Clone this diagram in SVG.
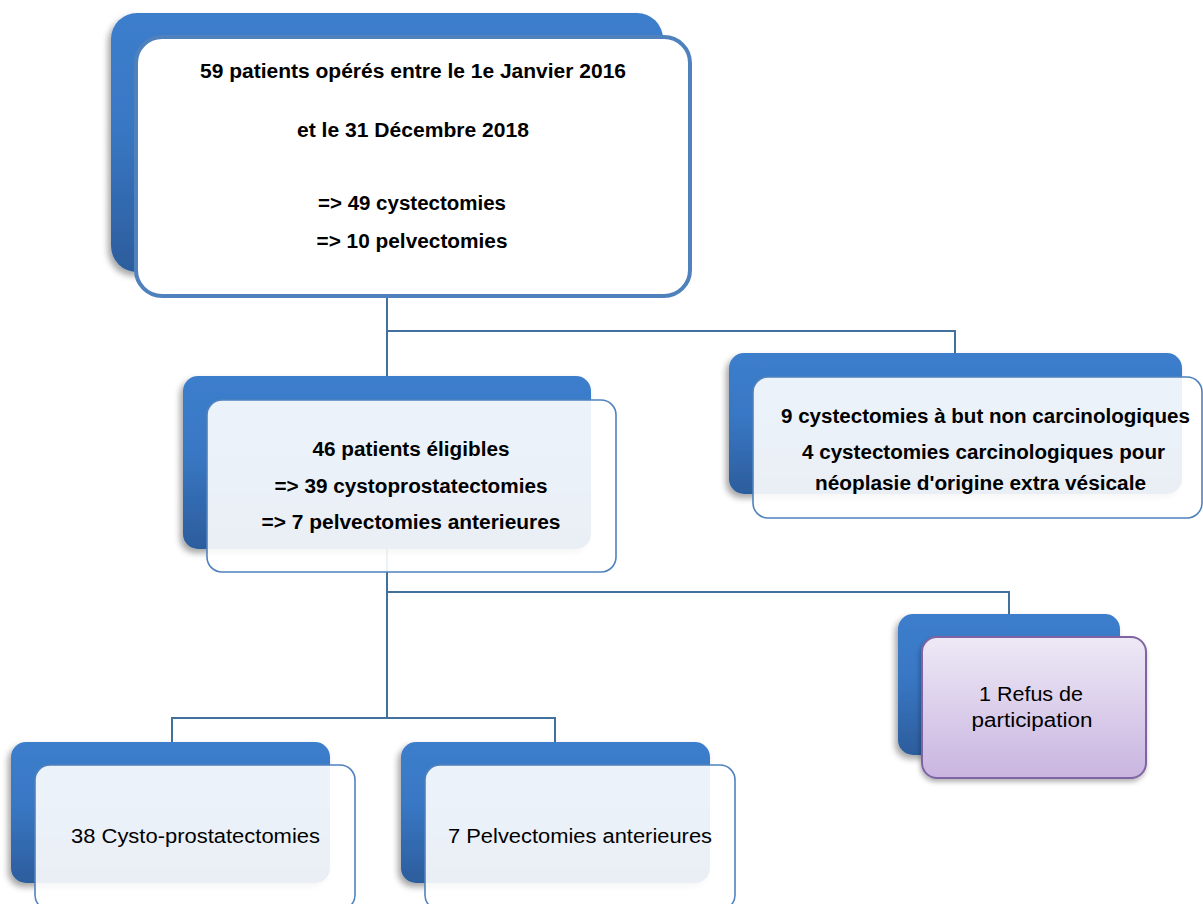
<svg xmlns="http://www.w3.org/2000/svg" width="1203" height="904" viewBox="0 0 1203 904">
<defs>
<linearGradient id="gBack" x1="0" y1="0" x2="0" y2="1">
<stop offset="0" stop-color="#3C7ECC"/>
<stop offset="0.45" stop-color="#3977C4"/>
<stop offset="1" stop-color="#2C5D9C"/>
</linearGradient>
<linearGradient id="gPurple" x1="0" y1="0" x2="0" y2="1">
<stop offset="0" stop-color="#EEE9F6"/>
<stop offset="1" stop-color="#C9B5E0"/>
</linearGradient>
<filter id="shadow" x="-10%" y="-10%" width="120%" height="130%">
<feDropShadow dx="-3" dy="4" stdDeviation="3" flood-color="#000" flood-opacity="0.35"/>
</filter>
<filter id="shadow2" x="-10%" y="-10%" width="120%" height="130%">
<feDropShadow dx="-1" dy="3" stdDeviation="2.5" flood-color="#000" flood-opacity="0.3"/>
</filter>
</defs>
<style>
.back{fill:url(#gBack);filter:url(#shadow)}
.front{fill:#FFFFFF;fill-opacity:0.9;stroke:#4F81BD;stroke-width:1.6}
.frontTop{fill:#FFFFFF;stroke:#4F81BD;stroke-width:4}
.frontPurple{fill:url(#gPurple);stroke:#8064A2;stroke-width:2;filter:url(#shadow2)}
.conn{fill:none;stroke:#41719C;stroke-width:2}
.tb{font-family:"Liberation Sans",Arial,sans-serif;font-weight:bold;font-size:20px;fill:#000;text-anchor:middle}
.tn{font-family:"Liberation Sans",Arial,sans-serif;font-size:20px;fill:#000;text-anchor:middle}
</style>
<rect width="1203" height="904" fill="#FFFFFF"/>

<g id="connectors">
<path class="conn" d="M387,298 V718"/>
<path class="conn" d="M387,331 H955 V353"/>
<path class="conn" d="M387,592 H1009 V614"/>
<path class="conn" d="M172,742 V718 H555 V742"/>
</g>

<g id="node-total">
<rect class="back" x="111" y="13" width="552" height="259" rx="26"/>
<rect class="frontTop" x="136" y="37" width="554" height="259" rx="26"/>
<text class="tb" x="413" y="78" textLength="426" lengthAdjust="spacingAndGlyphs">59 patients opérés entre le 1e Janvier 2016</text>
<text class="tb" x="413" y="137" textLength="232" lengthAdjust="spacingAndGlyphs">et le 31 Décembre 2018</text>
<text class="tb" x="412" y="210" textLength="188" lengthAdjust="spacingAndGlyphs">=&gt; 49 cystectomies</text>
<text class="tb" x="412" y="248" textLength="191" lengthAdjust="spacingAndGlyphs">=&gt; 10 pelvectomies</text>
</g>

<g id="node-eligible">
<rect class="back" x="183" y="376" width="408" height="173" rx="15"/>
<rect class="front" x="207" y="400" width="409" height="172" rx="15"/>
<text class="tb" x="411" y="456" textLength="197" lengthAdjust="spacingAndGlyphs">46 patients éligibles</text>
<text class="tb" x="411" y="493" textLength="273" lengthAdjust="spacingAndGlyphs">=&gt; 39 cystoprostatectomies</text>
<text class="tb" x="411" y="529" textLength="299" lengthAdjust="spacingAndGlyphs">=&gt; 7 pelvectomies anterieures</text>
</g>

<g id="node-excluded">
<rect class="back" x="729" y="353" width="453" height="141" rx="15"/>
<rect class="front" x="753" y="377" width="449" height="141" rx="15"/>
<text class="tb" x="985.5" y="423" textLength="409" lengthAdjust="spacingAndGlyphs">9 cystectomies à but non carcinologiques</text>
<text class="tb" x="983.5" y="459" textLength="363" lengthAdjust="spacingAndGlyphs">4 cystectomies carcinologiques pour</text>
<text class="tb" x="980.5" y="490" textLength="331" lengthAdjust="spacingAndGlyphs">néoplasie d'origine extra vésicale</text>
</g>

<g id="node-refus">
<rect class="back" x="898" y="614" width="222" height="141" rx="15"/>
<rect class="frontPurple" x="922" y="637" width="224" height="141" rx="15"/>
<text class="tn" x="1031" y="701" textLength="104" lengthAdjust="spacingAndGlyphs">1 Refus de</text>
<text class="tn" x="1032" y="727" textLength="121" lengthAdjust="spacingAndGlyphs">participation</text>
</g>

<g id="node-cysto">
<rect class="back" x="11" y="742" width="319" height="141" rx="15"/>
<rect class="front" x="35" y="765" width="320" height="145" rx="15"/>
<text class="tn" x="195.5" y="843" textLength="249" lengthAdjust="spacingAndGlyphs">38 Cysto-prostatectomies</text>
</g>

<g id="node-pelv">
<rect class="back" x="401" y="742" width="309" height="141" rx="15"/>
<rect class="front" x="425" y="765" width="310" height="145" rx="15"/>
<text class="tn" x="580" y="843" textLength="264" lengthAdjust="spacingAndGlyphs">7 Pelvectomies anterieures</text>
</g>
</svg>
